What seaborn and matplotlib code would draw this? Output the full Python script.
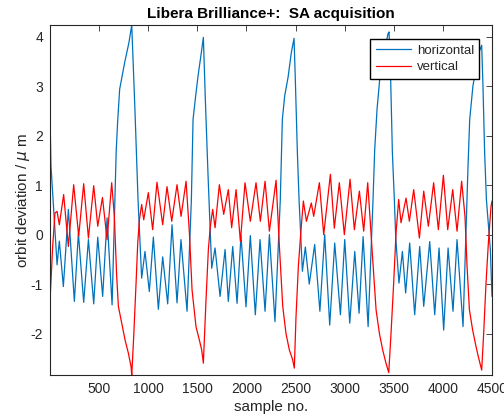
import pandas as pd
import matplotlib.pyplot as plt
import seaborn as sns
import numpy as np

# horizontal orbit (blue)
h_sample = [1, 11, 73, 96, 137, 188, 249, 290, 344, 392, 446, 487, 537, 582, 633,
            675, 690, 710, 761, 805, 833, 866, 897, 934, 968, 1012, 1053, 1104, 1148,
            1199, 1243, 1294, 1334, 1396, 1440, 1457, 1484, 1508, 1542, 1562, 1582,
            1610, 1647, 1681, 1732, 1783, 1816, 1861, 1905, 1945, 1996, 2040, 2091,
            2139, 2190, 2234, 2291, 2345, 2366, 2390, 2424, 2458, 2485, 2498, 2519,
            2536, 2570, 2600, 2640, 2695, 2748, 2797, 2848, 2899, 2957, 3001, 3052,
            3103, 3147, 3188, 3239, 3289, 3306, 3330, 3357, 3397, 3441, 3452, 3466,
            3486, 3506, 3520, 3553, 3588, 3621, 3662, 3713, 3764, 3805, 3866, 3917,
            3961, 4008, 4053, 4103, 4144, 4205, 4256, 4273, 4306, 4341, 4368, 4395,
            4408, 4425, 4443, 4483, 4500]
h_value = [2.43, 1.39, -0.61, -0.13, -1.05, 0.51, -1.35, 0.03, -1.37, -0.10, -1.40,
           -0.05, -1.25, 0.34, -1.42, 1.70, 2.30, 2.94, 3.48, 3.89, 4.24, 2.50, 0.71,
           -0.88, -0.34, -1.15, -0.05, -1.51, -0.45, -1.40, 0.20, -1.38, -0.10, -1.55,
           0.70, 2.33, 2.81, 3.21, 3.69, 3.99, 2.74, 1.18, -0.68, -0.27, -1.25, -0.30,
           -1.35, -0.24, -1.39, -0.02, -1.46, -0.02, -1.62, -0.10, -1.55, 0.00, -1.76,
           0.70, 2.33, 2.81, 3.18, 3.69, 3.97, 3.14, 1.66, 0.71, -0.74, -0.25, -1.00,
           -0.20, -1.55, 0.00, -1.83, -0.17, -1.62, -0.10, -1.79, -0.34, -1.59, -0.04,
           -1.86, 0.71, 1.72, 2.54, 3.14, 3.62, 4.06, 4.10, 3.35, 1.66, 0.71, -0.06,
           -0.98, -0.34, -1.18, -0.17, -1.62, -0.24, -1.45, -0.14, -1.62, -0.27, -1.93,
           -0.27, -1.55, -0.10, -1.86, 1.39, 2.33, 3.01, 3.41, 3.69, 3.83, 3.01, 1.66,
           0.71, -0.30, -1.25]

# vertical orbit (red)
v_sample = [1, 28, 52, 73, 96, 140, 188, 242, 293, 344, 392, 446, 487, 535, 582, 629,
            656, 680, 697, 731, 765, 799, 826, 833, 853, 877, 894, 911, 934, 955, 1002,
            1046, 1090, 1148, 1192, 1240, 1294, 1335, 1386, 1420, 1447, 1487, 1521,
            1545, 1562, 1589, 1613, 1633, 1657, 1681, 1725, 1769, 1816, 1850, 1895,
            1939, 1986, 2040, 2098, 2142, 2190, 2234, 2302, 2336, 2370, 2403, 2437,
            2471, 2488, 2505, 2529, 2556, 2580, 2611, 2661, 2685, 2743, 2787, 2855,
            2895, 2946, 2997, 3055, 3099, 3150, 3194, 3235, 3286, 3320, 3354, 3387,
            3421, 3449, 3472, 3499, 3523, 3550, 3574, 3625, 3659, 3703, 3761, 3805,
            3852, 3906, 3954, 4005, 4049, 4100, 4144, 4191, 4225, 4246, 4270, 4303,
            4337, 4361, 4395, 4415, 4439, 4463, 4490, 4500]
v_value = [-1.35, -0.24, 0.44, 0.47, 0.20, 0.81, -0.24, 1.01, -0.03, 1.03, -0.07, 0.99,
           0.17, 0.75, -0.10, 1.05, 0.37, -0.85, -1.45, -1.79, -2.13, -2.40, -2.67,
           -2.84, -2.06, -0.98, -0.17, 0.30, 0.61, 0.30, 0.85, 0.10, 1.06, 0.20, 0.97,
           0.27, 1.01, 0.37, 1.08, 0.03, -1.12, -1.86, -2.13, -2.33, -2.60, -1.32,
           -0.30, 0.17, 0.51, 0.14, 1.01, 0.41, 0.91, 0.14, 0.91, -0.14, 1.05, 0.27,
           1.05, 0.27, 1.08, 0.07, 1.10, -0.24, -1.45, -2.00, -2.33, -2.53, -2.70,
           -1.66, -0.64, 0.10, 0.68, 0.27, 0.64, 0.37, 1.05, 0.00, 1.22, 0.13, 1.05,
           0.00, 1.12, 0.10, 0.88, 0.07, 1.05, -0.51, -1.52, -2.00, -2.33, -2.60,
           -2.79, -2.00, -0.98, 0.03, 0.71, 0.24, 0.74, 0.27, 0.91, -0.07, 0.88, 0.17,
           1.05, 0.10, 1.20, 0.10, 0.91, 0.07, 1.08, 0.37, -0.64, -1.52, -1.93, -2.26,
           -2.47, -2.74, -2.00, -0.98, -0.17, 0.57, 0.68]

df = pd.concat([
    pd.DataFrame({'sample': h_sample, 'value': h_value, 'plane': 'horizontal'}),
    pd.DataFrame({'sample': v_sample, 'value': v_value, 'plane': 'vertical'}),
])

sns.set_theme(style='white')
plt.rcParams['font.family'] = ['Liberation Sans', 'DejaVu Sans']
plt.rcParams['axes.unicode_minus'] = False
plt.rcParams['axes.edgecolor'] = '#262626'
plt.rcParams['xtick.color'] = '#262626'
plt.rcParams['ytick.color'] = '#262626'

fig = plt.figure(figsize=(5.04, 4.2), dpi=100)
ax = fig.add_axes([0.0992, 0.107, 0.877, 0.8335])

sns.lineplot(data=df, x='sample', y='value', hue='plane',
             palette={'horizontal': '#0072BD', 'vertical': '#FF0000'},
             estimator=None, sort=False, linewidth=0.9, ax=ax, legend=False)

ax.set_xlim(1, 4500)
ax.set_ylim(min(v_value), max(h_value))
ax.set_xticks(np.arange(500, 4501, 500))
ax.set_yticks(np.arange(-2, 5, 1))
ax.tick_params(direction='in', length=4, width=0.6, top=True, right=True,
               labelsize=10, pad=5)
for s in ax.spines.values():
    s.set_linewidth(0.8)

ax.set_xlabel('sample no.', fontsize=11, color='#262626', labelpad=3)
ax.set_ylabel(r'orbit deviation / $\mu$ m', fontsize=11, color='#262626', labelpad=-1)
ax.set_title('Libera Brilliance+:  SA acquisition', fontsize=11, fontweight='bold',
             color='black', pad=5)

handles = [plt.Line2D([], [], color='#0072BD', lw=0.9),
           plt.Line2D([], [], color='#FF0000', lw=0.9)]
ax.legend(handles, ['horizontal', 'vertical'], loc='upper right',
          bbox_to_anchor=(0.971, 0.96), borderaxespad=0, fancybox=False,
          edgecolor='black', framealpha=1, fontsize=9.5, handlelength=2.7,
          borderpad=0.4, labelspacing=0.35, handletextpad=0.4)

fig.savefig('out.png', dpi=100)
